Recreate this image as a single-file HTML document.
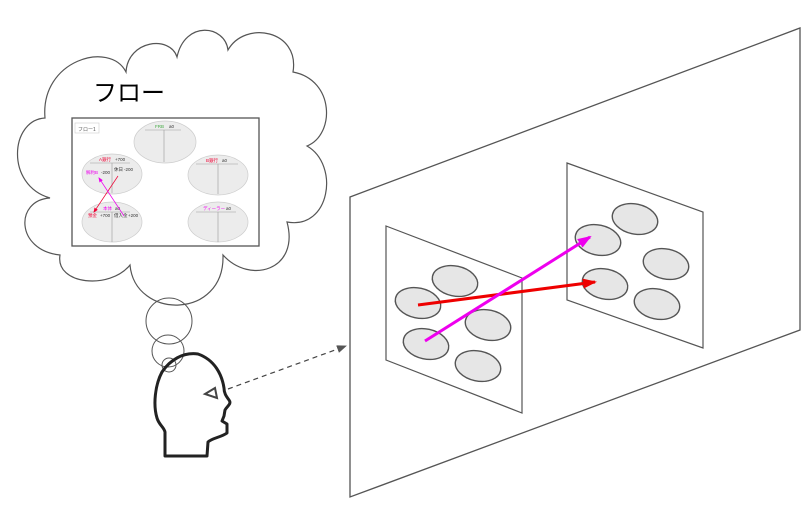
<!DOCTYPE html>
<html><head><meta charset="utf-8"><style>
html,body{margin:0;padding:0;background:#fff;width:811px;height:523px;overflow:hidden}
svg{display:block}
text{font-family:"Liberation Sans","Noto Sans CJK JP",sans-serif}
</style></head><body>
<svg width="811" height="523" viewBox="0 0 811 523" xmlns="http://www.w3.org/2000/svg">
<defs>
<marker id="ar" markerWidth="10" markerHeight="8" refX="9" refY="4" orient="auto" markerUnits="userSpaceOnUse"><path d="M0,0 L10,4 L0,8 z" fill="#555"/></marker>
<marker id="rr" markerWidth="14" markerHeight="10" refX="12" refY="5" orient="auto" markerUnits="userSpaceOnUse"><path d="M0,0 L14,5 L0,10 z" fill="#e00"/></marker>
<marker id="mm" markerWidth="14" markerHeight="10" refX="12" refY="5" orient="auto" markerUnits="userSpaceOnUse"><path d="M0,0 L14,5 L0,10 z" fill="#e0e"/></marker>
<marker id="sr" markerWidth="5" markerHeight="4" refX="4" refY="2" orient="auto" markerUnits="userSpaceOnUse"><path d="M0,0 L5,2 L0,4 z" fill="#e03"/></marker>
<marker id="sm" markerWidth="5" markerHeight="4" refX="4" refY="2" orient="auto" markerUnits="userSpaceOnUse"><path d="M0,0 L5,2 L0,4 z" fill="#e0e"/></marker>
</defs>
<!-- cloud -->
<path d="M45,118 C40,60 110,40 126,72 C128,40 170,35 177,57 C185,20 225,25 228,50 C245,20 300,30 293,72 C335,80 335,135 307,146 C340,165 330,230 287,222 C300,270 250,285 223,255 C225,320 135,320 130,265 C110,290 55,285 60,255 C15,250 15,200 50,198 C5,185 10,120 45,118 Z" fill="#fff" stroke="#555" stroke-width="1.2"/>
<text x="93" y="101" font-size="24" fill="#000">フロー</text>
<!-- inner box -->
<rect x="72" y="118" width="187" height="128" fill="#fff" stroke="#555" stroke-width="1.3"/>
<rect x="75" y="123" width="24" height="10" fill="#fff" stroke="#ccc" stroke-width="0.6"/>
<text x="78" y="131" font-size="5" fill="#555">フロー1</text>
<g fill="#ececec" stroke="#ccc" stroke-width="0.7">
<ellipse cx="165" cy="142" rx="31" ry="21"/>
<ellipse cx="112" cy="174" rx="30" ry="20"/>
<ellipse cx="218" cy="175" rx="30" ry="20"/>
<ellipse cx="112" cy="222" rx="30" ry="20"/>
<ellipse cx="218" cy="222" rx="30" ry="20"/>
</g>
<g stroke="#999" stroke-width="0.6">
<line x1="145" y1="130" x2="181" y2="130"/><line x1="164" y1="130" x2="164" y2="162"/>
<line x1="90" y1="163" x2="130" y2="163"/><line x1="112" y1="163" x2="112" y2="193"/>
<line x1="196" y1="164" x2="238" y2="164"/><line x1="218" y1="164" x2="218" y2="194"/>
<line x1="90" y1="212" x2="130" y2="212"/><line x1="112" y1="212" x2="112" y2="242"/>
<line x1="196" y1="212" x2="236" y2="212"/><line x1="218" y1="212" x2="218" y2="242"/>
</g>
<g font-size="4.5">
<text x="155" y="128" fill="#4a4">FRB</text><text x="169" y="128" fill="#333">a0</text>
<text x="99" y="161" fill="#e03">A銀行</text><text x="115" y="161" fill="#333">+700</text>
<text x="86" y="174" fill="#e0e">解約B</text><text x="101" y="174" fill="#333">-200</text>
<text x="114" y="171" fill="#333">休日</text><text x="124" y="171" fill="#333">-200</text>
<text x="206" y="162" fill="#e03">B銀行</text><text x="222" y="162" fill="#333">a0</text>
<text x="103" y="210" fill="#e0e">本体</text><text x="115" y="210" fill="#333">a0</text>
<text x="88" y="217" fill="#e03">預金</text><text x="100" y="217" fill="#333">+700</text>
<text x="114" y="217" fill="#333">借入金</text><text x="128" y="217" fill="#333">+200</text>
<text x="203" y="210" fill="#e0e">ディーラー</text><text x="226" y="210" fill="#333">a0</text>
</g>
<line x1="118" y1="176" x2="94" y2="212" stroke="#e03" stroke-width="0.7" marker-end="url(#sr)"/>
<line x1="124" y1="216" x2="99" y2="178" stroke="#e0e" stroke-width="0.7" marker-end="url(#sm)"/>
<!-- thought bubbles -->
<circle cx="169" cy="321" r="23" fill="none" stroke="#555" stroke-width="1"/>
<circle cx="168" cy="351" r="16" fill="none" stroke="#555" stroke-width="1"/>
<circle cx="169" cy="365" r="7" fill="none" stroke="#555" stroke-width="1"/>
<!-- head -->
<path d="M198,354 C183,352 170,360 162,372 C155,385 153,405 157,418 C159,425 164,427 165,432 L165,456 L207,456 L208,442 C212,438 222,437 227,433 L227,424 L222,421 L224,416 L225,410 C227,406 232,404 229,400 C226,396 224,393 224,388 C222,375 215,360 198,354 Z" fill="none" stroke="#222" stroke-width="3" stroke-linejoin="round"/>
<path d="M205,394 L215,388 L217,398 Z" fill="none" stroke="#444" stroke-width="2"/>
<line x1="228" y1="389" x2="346" y2="346" stroke="#444" stroke-width="1.2" stroke-dasharray="5,4" marker-end="url(#ar)"/>
<!-- big plane -->
<polygon points="350,197 800,28 800,330 350,497" fill="#fff" stroke="#555" stroke-width="1.3"/>
<polygon points="386,226 522,278 522,413 386,360" fill="#fff" stroke="#555" stroke-width="1.2"/>
<polygon points="567,163 703,212 703,348 567,300" fill="#fff" stroke="#555" stroke-width="1.2"/>
<g fill="#e6e6e6" stroke="#555" stroke-width="1.4">
<ellipse cx="455" cy="281" rx="23" ry="15" transform="rotate(12 455 281)"/>
<ellipse cx="418" cy="303" rx="23" ry="15" transform="rotate(12 418 303)"/>
<ellipse cx="488" cy="325" rx="23" ry="15" transform="rotate(12 488 325)"/>
<ellipse cx="426" cy="344" rx="23" ry="15" transform="rotate(12 426 344)"/>
<ellipse cx="478" cy="366" rx="23" ry="15" transform="rotate(12 478 366)"/>
<ellipse cx="635" cy="219" rx="23" ry="15" transform="rotate(12 635 219)"/>
<ellipse cx="598" cy="240" rx="23" ry="15" transform="rotate(12 598 240)"/>
<ellipse cx="666" cy="264" rx="23" ry="15" transform="rotate(12 666 264)"/>
<ellipse cx="605" cy="284" rx="23" ry="15" transform="rotate(12 605 284)"/>
<ellipse cx="657" cy="304" rx="23" ry="15" transform="rotate(12 657 304)"/>
</g>
<line x1="418" y1="305" x2="595" y2="282" stroke="#e00" stroke-width="3" marker-end="url(#rr)"/>
<line x1="425" y1="341" x2="590" y2="237" stroke="#e0e" stroke-width="3" marker-end="url(#mm)"/>
</svg>
</body></html>
